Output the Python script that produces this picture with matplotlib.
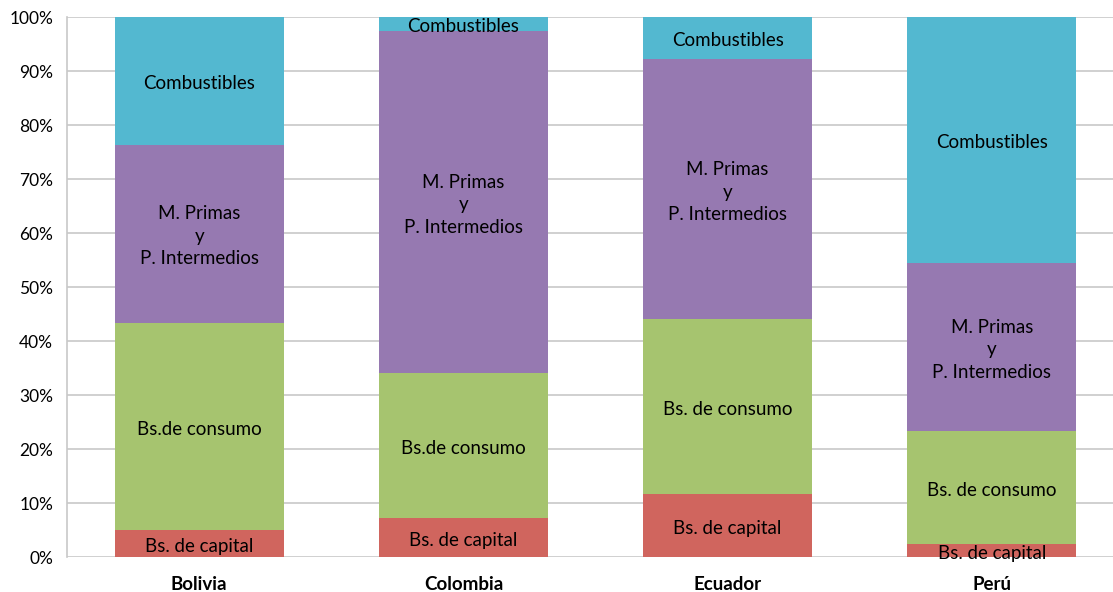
import numpy as np
import matplotlib.pyplot as plt
from matplotlib.ticker import PercentFormatter

plt.rcParams['font.family'] = ['Lato', 'DejaVu Sans']

countries = ["Bolivia", "Colombia", "Ecuador", "Perú"]
capital = [5.0, 7.2, 11.7, 2.4]
consumo = [38.4, 26.8, 32.3, 21.0]
primas = [33.0, 63.4, 48.2, 31.0]
combustibles = [23.6, 2.6, 7.8, 45.6]

consumo_labels = ["Bs.de consumo", "Bs.de consumo", "Bs. de consumo", "Bs. de consumo"]
primas_label = "M. Primas\ny\nP. Intermedios"

colors = ["#D0655E", "#A6C46F", "#9679B1", "#53B8D0"]

fig = plt.figure(figsize=(11.13, 5.92), dpi=100)
ax = fig.add_axes([0.0602, 0.0591, 0.9497, 0.912])

x = np.arange(len(countries))
w = 0.64
series = [capital, consumo, primas, combustibles]
bottom = np.zeros(len(countries))
for i, vals in enumerate(series):
    vals = np.array(vals)
    ax.bar(x, vals, w, bottom=bottom, color=colors[i], zorder=2)
    for j in range(len(countries)):
        if i == 0:
            lab = "Bs. de capital"
        elif i == 1:
            lab = consumo_labels[j]
        elif i == 2:
            lab = primas_label
        else:
            lab = "Combustibles"
        ax.text(x[j], bottom[j] + vals[j] / 2 - 0.5, lab, ha="center", va="center",
                fontsize=13.5, color="#000000", linespacing=1.38, zorder=3)
    bottom += vals

ax.set_xlim(-0.5, 3.5)
ax.set_ylim(0, 100)
ax.set_yticks(np.arange(0, 101, 10))
ax.yaxis.set_major_formatter(PercentFormatter(decimals=0))
ax.grid(axis="y", color="#C8C8C8", linewidth=1.2, zorder=0)
ax.set_xticks(x)
ax.set_xticklabels(countries, fontweight="bold", fontsize=13.5)
ax.tick_params(axis="y", length=0, labelsize=12.5, pad=10)
ax.tick_params(axis="x", length=0, pad=14)
for s in ["top", "right", "bottom"]:
    ax.spines[s].set_visible(False)
ax.spines["left"].set_color("#C8C8C8")
ax.spines["left"].set_linewidth(1.2)

fig.savefig("out.png", dpi=100)
